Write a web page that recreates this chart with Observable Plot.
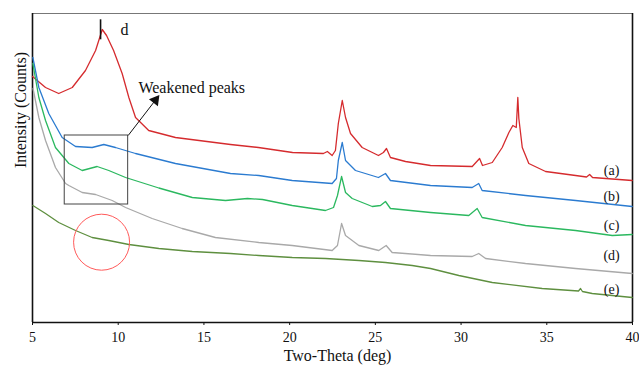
<!DOCTYPE html>
<html>
<head>
<meta charset="utf-8">
<script src="https://cdn.jsdelivr.net/npm/d3@7"></script>
<script src="https://cdn.jsdelivr.net/npm/@observablehq/plot@0.6"></script>
<style>
  html, body { margin: 0; padding: 0; background: #fff; }
  #chart { width: 639px; height: 366px; }
</style>
</head>
<body>
<div id="chart"></div>
<script>
// ---- Data: [two-theta (deg), intensity (a.u.)] ----
const seriesA = [[5.00,246],[5.76,235],[6.53,229],[7.32,235],[8.09,252],[8.68,272],[9.07,293],[9.32,287],[9.73,272],[10.23,249],[10.62,225],[11.01,205],[11.78,192],[13.34,185],[16.55,178],[18.18,175],[20.17,170],[21.97,169],[22.2,171],[22.48,167],[22.67,172],[22.84,199],[23.07,222],[23.26,205],[23.55,189],[24.23,175],[25.18,167],[25.47,170],[25.65,174],[25.88,165],[26.76,161],[28.22,157],[30.65,156],[31.08,164],[31.25,157],[31.82,160],[32.40,175],[32.79,190],[33.02,197],[33.22,195],[33.31,225],[33.37,204],[33.57,175],[33.95,159],[34.93,151],[36.68,147],[37.32,145.5],[37.5,148],[37.67,145],[39.98,142]];
const seriesB = [[5.02,265],[5.37,235],[5.95,209],[6.73,185],[7.51,176],[8.48,175],[9.16,178],[9.84,175],[11.01,169],[13.34,159],[16.55,149],[18.20,147],[20.15,142],[22.48,139],[22.73,144],[22.84,162],[23.07,180],[23.26,162],[23.84,152],[25.18,145],[25.59,149],[25.88,142],[28.22,137],[30.65,135],[31.03,139],[31.23,132],[33.76,127],[36.68,122],[39.98,116]];
const seriesC = [[5.02,259],[5.37,225],[5.76,202],[6.34,175],[7.12,159],[7.90,152],[8.77,156],[9.45,152],[10.43,145],[12.37,134.5],[14.32,125],[16.26,122],[17.54,124],[18.42,123],[20.15,117],[22.09,112],[22.56,115],[22.79,127],[23.03,146],[23.26,130],[23.65,124],[24.82,116],[25.3,117],[25.59,121],[25.88,114],[28.22,110],[30.45,107],[30.94,114],[31.23,105],[33.76,97],[36.68,92],[38.82,87],[39.98,88]];
const seriesD = [[5.03,234],[5.37,205],[5.76,182],[6.34,155],[6.93,139],[7.12,137],[7.90,130],[8.68,128],[9.65,122],[10.43,115],[11.98,104],[13.73,94],[15.67,85],[18.20,80],[20.15,77],[22.48,72],[22.79,77],[23.03,99],[23.26,87],[24.04,77],[25.20,72],[25.63,77],[25.98,70],[28.22,67],[30.65,66],[31.03,69],[31.43,64],[33.76,59],[36.68,54],[39.98,49]];
const seriesE = [[5.02,117],[5.76,109],[6.53,100],[7.51,92],[8.48,85],[9.45,82],[10.62,78],[12.37,74],[14.32,71],[16.55,69],[18.20,67],[20.15,65],[22.09,64],[24.04,62],[25.59,60],[27.15,57],[28.22,54],[29.87,47],[31.82,40],[34.73,34],[36.85,31.5],[36.97,34],[37.08,31],[37.65,29],[39.98,25]];

const seriesLabels = ["(a)", "(b)", "(c)", "(d)", "(e)"];
const labelY = [152, 126, 97, 67, 33];
const labelX = 38.78;
const xTicks = [5, 10, 15, 20, 25, 30, 35, 40];

// annotation anchors (data coordinates)
const peakD = {x: 8.97, y1: 282.7, y2: 302.7, labelX: 10.13, labelY: 293};
const box = {x1: 6.88, x2: 10.58, y1: 118, y2: 187};
const arrowLine = {x1: 10.58, y1: 187, x2: 12.17, y2: 222.3};
const noteText = {x: 11.18, y: 235, text: "Weakened peaks"};
const ring = {x: 9.03, y: 80.3};

const colors = ["#d52b2e", "#2b7bd0", "#2bb85f", "#a9a9a9", "#5e8f3f"];
const all = [seriesA, seriesB, seriesC, seriesD, seriesE];

const serif = "'Liberation Serif', 'Times New Roman', serif";

const chart = Plot.plot({
  width: 639,
  height: 366,
  marginTop: 13,
  marginRight: 7,
  marginBottom: 44,
  marginLeft: 32,
  style: {fontFamily: serif, fontSize: "14px", background: "#fff", color: "#111"},
  x: {domain: [5, 40]},
  y: {domain: [0, 309], axis: null},
  marks: [
    Plot.frame({stroke: "#777", strokeWidth: 1}),
    Plot.ruleX([5], {stroke: "#111", strokeWidth: 1.6}),
    Plot.ruleX([40], {stroke: "#111", strokeWidth: 1.6}),
    Plot.ruleY([0], {stroke: "#111", strokeWidth: 1.6}),
    Plot.axisX({ticks: xTicks, tickSize: 3, tickPadding: 7, tickFormat: d => String(d), label: null, fontSize: 14, fontFamily: serif, stroke: "#111"}),
    ...all.map((s, i) => Plot.line(s, {x: d => d[0], y: d => d[1], stroke: colors[i], strokeWidth: 1.3})),
    Plot.text(seriesLabels, {x: () => labelX, y: (d, i) => labelY[i], text: d => d, fontSize: 14, fontFamily: serif, fill: "#111"}),
    // peak marker "d"
    Plot.ruleX([peakD], {x: "x", y1: "y1", y2: "y2", stroke: "#111", strokeWidth: 1.6}),
    Plot.text([peakD], {x: "labelX", y: "labelY", text: () => "d", fontSize: 16, fontFamily: serif, textAnchor: "start", fill: "#111"}),
    // box
    Plot.rect([box], {x1: "x1", x2: "x2", y1: "y1", y2: "y2", fill: "none", stroke: "#444", strokeWidth: 1}),
    // arrow
    Plot.link([arrowLine], {x1: "x1", y1: "y1", x2: "x2", y2: "y2", stroke: "#111", strokeWidth: 1}),
    Plot.dot([arrowLine], {x: "x2", y: "y2", symbol: "triangle", r: 4.2, fill: "#111", stroke: "none", rotate: 37.6}),
    Plot.text([noteText], {x: "x", y: "y", text: "text", fontSize: 16, fontFamily: serif, textAnchor: "start", fill: "#111"}),
    // circle
    Plot.dot([ring], {x: "x", y: "y", r: 28, fill: "none", stroke: "#ff5a5a", strokeWidth: 1}),
    // axis titles
    Plot.text(["Two-Theta (deg)"], {frameAnchor: "bottom", dx: 5, dy: 38, fontSize: 16, fontFamily: serif, fill: "#111"}),
    Plot.text(["Intensity (Counts)"], {frameAnchor: "left", dx: -12, rotate: -90, fontSize: 16, fontFamily: serif, fill: "#111"})
  ]
});
document.getElementById("chart").appendChild(chart);
</script>
</body>
</html>
